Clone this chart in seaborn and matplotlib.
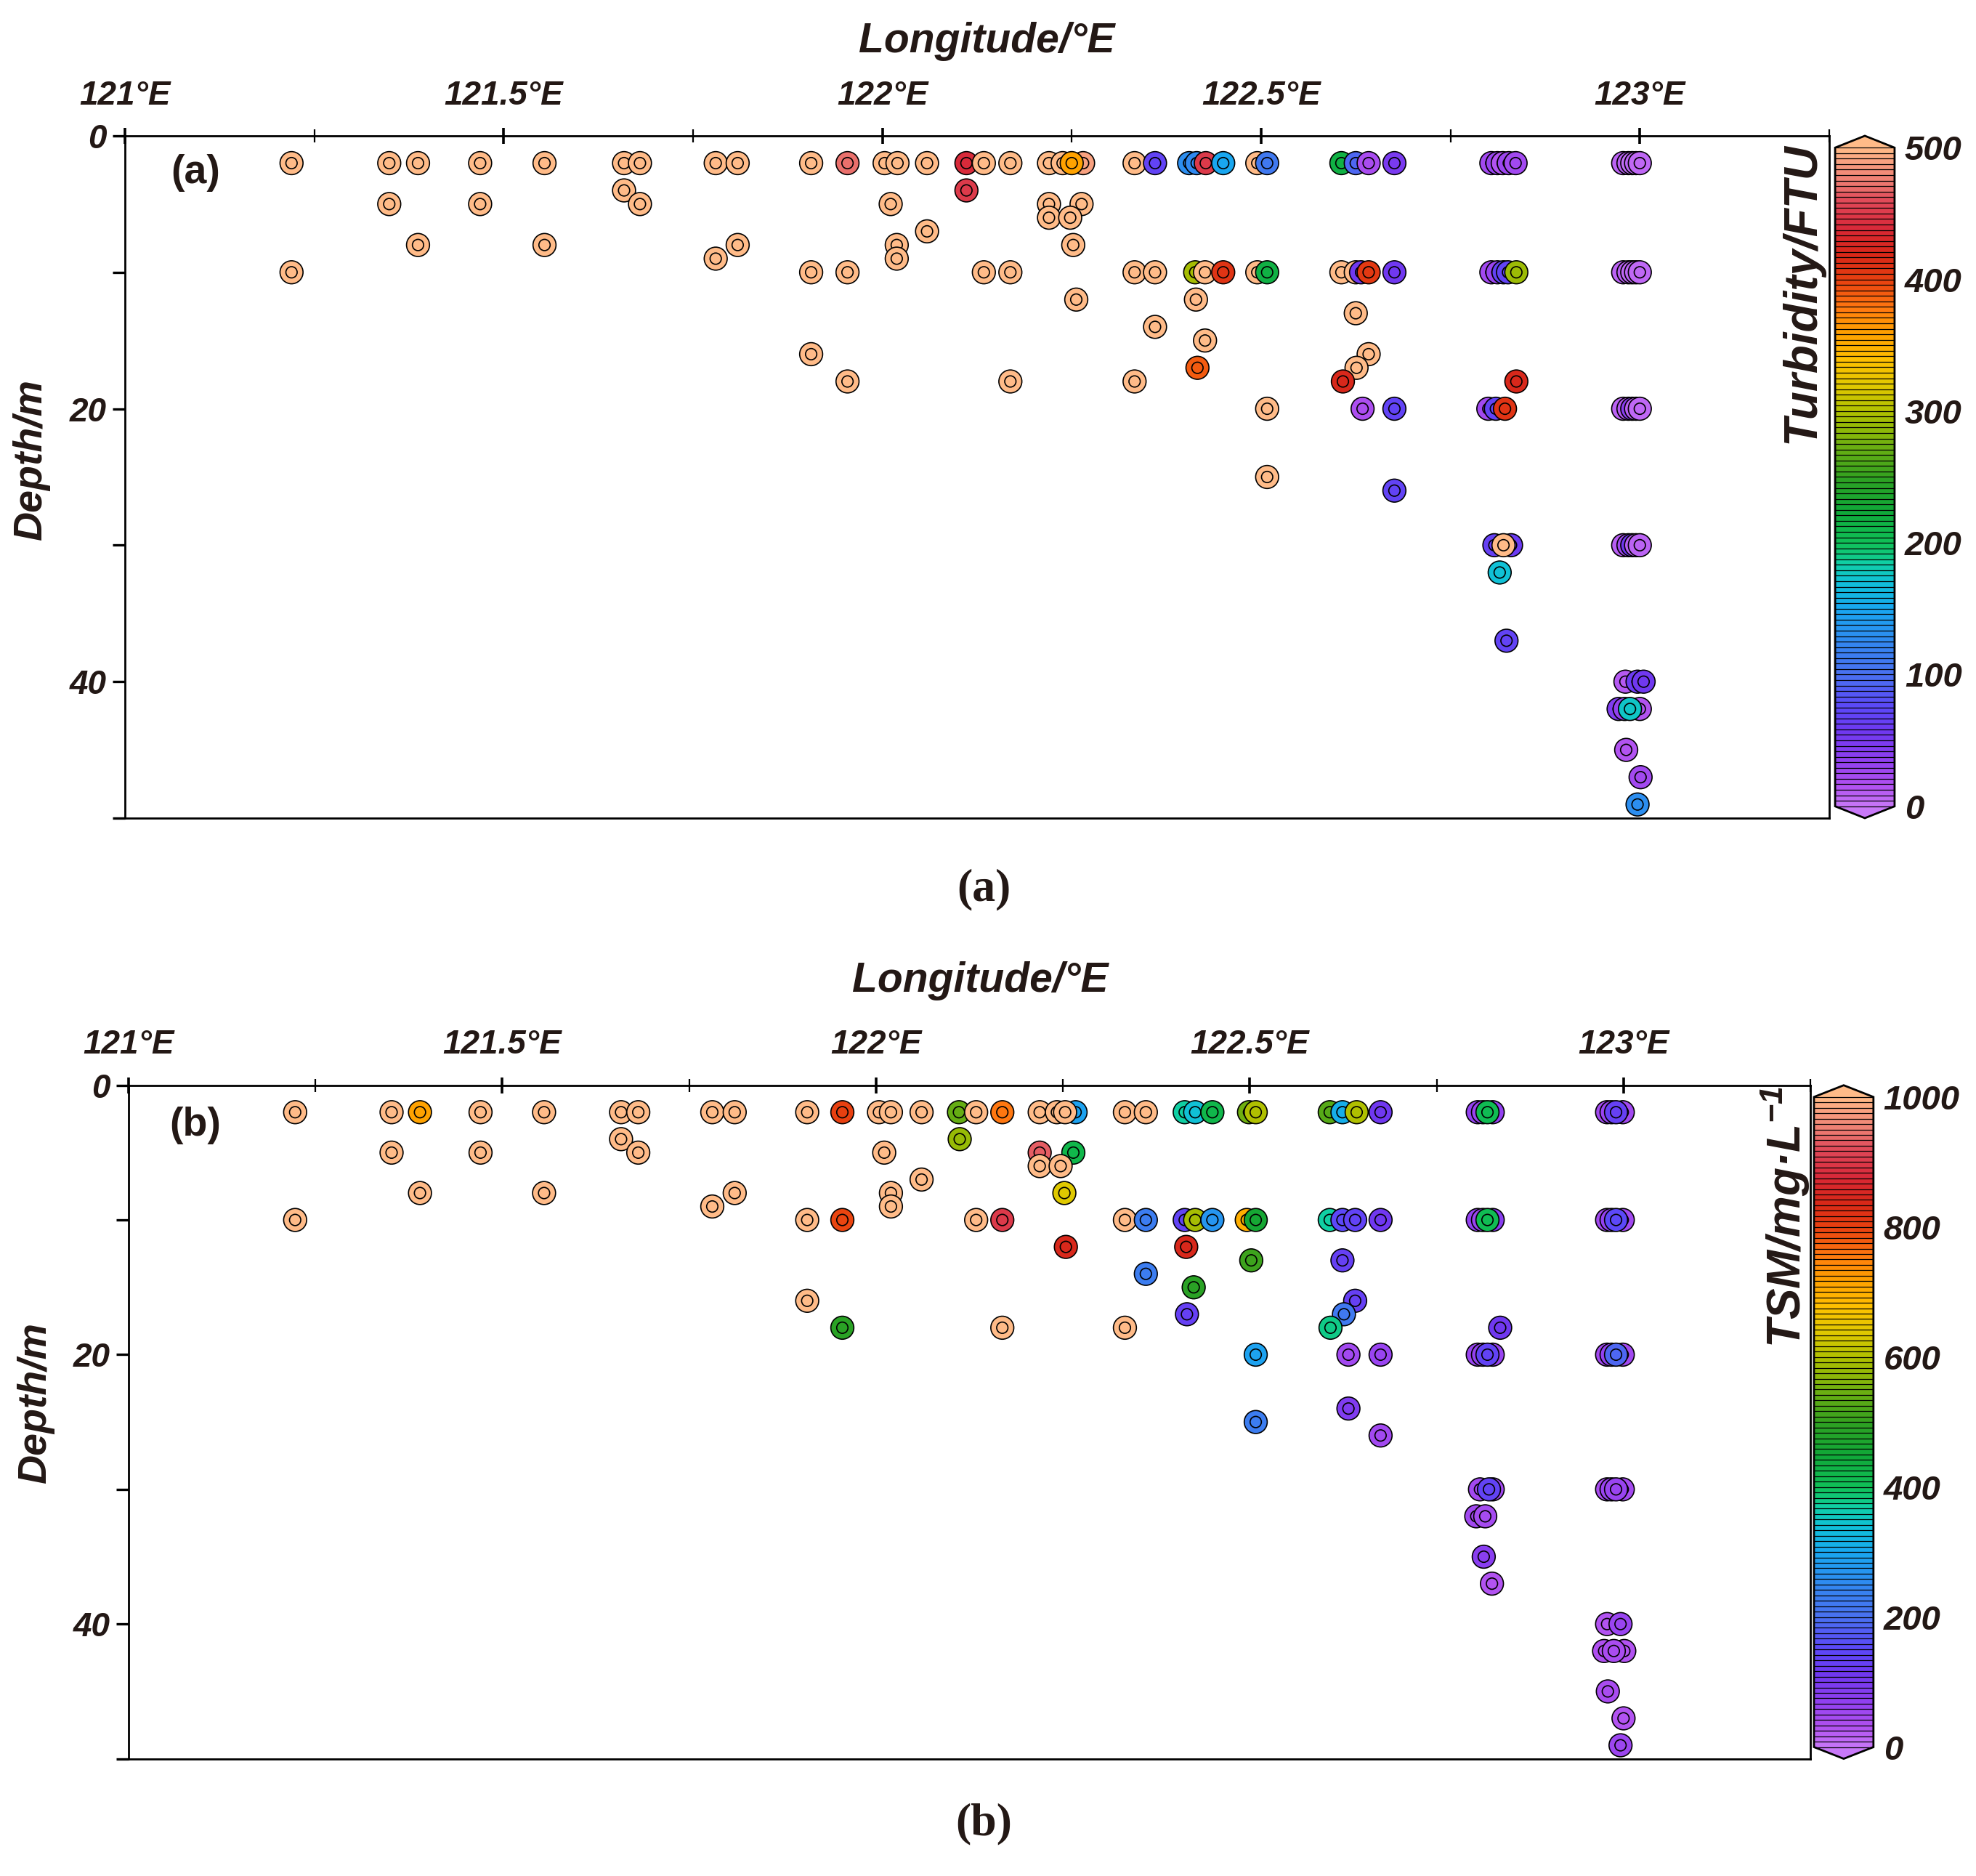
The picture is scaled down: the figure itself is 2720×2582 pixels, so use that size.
import matplotlib
matplotlib.use("Agg")
import numpy as np
import pandas as pd
import matplotlib.pyplot as plt
import matplotlib.colors as mcolors
from matplotlib.path import Path
from matplotlib.ticker import MultipleLocator, FuncFormatter
import seaborn as sns

sns.set_theme(style="ticks")
plt.rcParams['font.family'] = ['Liberation Sans', 'DejaVu Sans']
plt.rcParams['mathtext.fontset'] = 'custom'
plt.rcParams['mathtext.rm'] = 'Liberation Sans:bold:italic'
plt.rcParams['mathtext.it'] = 'Liberation Sans:bold:italic'
plt.rcParams['mathtext.bf'] = 'Liberation Sans:bold:italic'

INK = '#231815'

# ---------------- panel (a): turbidity (FTU) ----------------
lon_a = [
    # 2 m
    121.220, 121.349, 121.387, 121.469, 121.554, 121.659, 121.680, 121.780, 121.809, 121.906,
    121.954, 122.003, 122.020, 122.059, 122.111, 122.134, 122.169, 122.220, 122.238, 122.265,
    122.250, 122.333, 122.360, 122.405, 122.415, 122.427, 122.450, 122.495, 122.508, 122.606,
    122.625, 122.642, 122.676, 122.804, 122.812, 122.819, 122.827, 122.836, 122.978, 122.985,
    122.990, 122.995, 123.000,
    # 4 - 9 m
    121.659, 122.111,
    121.349, 121.469, 121.680, 122.011, 122.220, 122.263,
    122.220, 122.248,
    122.059,
    121.387, 121.554, 121.809, 122.019, 122.252,
    121.780, 122.019,
    # 10 m
    121.220, 121.906, 121.954, 122.134, 122.169, 122.333, 122.360, 122.413, 122.426, 122.450,
    122.495, 122.508, 122.606, 122.625, 122.632, 122.642, 122.676, 122.804, 122.812, 122.820,
    122.826, 122.837, 122.978, 122.985, 122.990, 122.995, 123.000,
    # 12 - 18 m
    122.256, 122.414,
    122.625,
    122.360,
    122.426,
    121.906, 122.642,
    122.416, 122.626,
    121.954, 122.169, 122.333, 122.608, 122.837,
    # 20 m
    122.508, 122.634, 122.676, 122.800, 122.810, 122.822, 122.978, 122.985, 122.990, 122.995,
    123.000,
    # 25 - 49 m
    122.508,
    122.676,
    122.808, 122.830, 122.820, 122.978, 122.985, 122.990, 122.995, 123.000,
    122.815,
    122.824,
    122.981, 122.997, 123.005,
    122.972, 122.980, 123.000, 122.987,
    122.982,
    123.001,
    122.997,
]
depth_a = [
    2, 2, 2, 2, 2, 2, 2, 2, 2, 2,
    2, 2, 2, 2, 2, 2, 2, 2, 2, 2,
    2, 2, 2, 2, 2, 2, 2, 2, 2, 2,
    2, 2, 2, 2, 2, 2, 2, 2, 2, 2,
    2, 2, 2,
    4, 4,
    5, 5, 5, 5, 5, 5,
    6, 6,
    7,
    8, 8, 8, 8, 8,
    9, 9,
    10, 10, 10, 10, 10, 10, 10, 10, 10, 10,
    10, 10, 10, 10, 10, 10, 10, 10, 10, 10,
    10, 10, 10, 10, 10, 10, 10,
    12, 12,
    13,
    14,
    15,
    16, 16,
    17, 17,
    18, 18, 18, 18, 18,
    20, 20, 20, 20, 20, 20, 20, 20, 20, 20,
    20,
    25,
    26,
    30, 30, 30, 30, 30, 30, 30, 30,
    32,
    37,
    40, 40, 40,
    42, 42, 42, 42,
    45,
    47,
    49,
]
turb_a = [
    500, 500, 500, 500, 500, 500, 500, 500, 500, 500,
    472, 500, 500, 500, 440, 500, 500, 500, 500, 490,
    358, 500, 70, 130, 125, 450, 150, 500, 110, 215,
    95, 20, 50, 25, 30, 15, 28, 25, 8, 10,
    5, 8, 6,
    500, 450,
    500, 500, 500, 500, 500, 500,
    500, 500,
    500,
    500, 500, 500, 500, 500,
    500, 500,
    500, 500, 500, 500, 500, 500, 500, 295, 500, 410,
    500, 215, 500, 500, 55, 405, 55, 25, 30, 70,
    70, 292, 8, 10, 6, 8, 6,
    500, 500,
    500,
    500,
    500,
    500, 500,
    390, 500,
    500, 500, 500, 420, 420,
    500, 18, 70, 25, 70, 410, 8, 12, 40, 10,
    6,
    500,
    70,
    65, 60, 500, 10, 25, 55, 10, 8,
    170,
    70,
    12, 60, 55,
    45, 35, 15, 175,
    15,
    25,
    130,
]

# ---------------- panel (b): TSM (mg/L) ----------------
lon_b = [
    # 2 m
    121.223, 121.352, 121.390, 121.471, 121.556, 121.659, 121.682, 121.781, 121.811, 121.908,
    121.955, 122.004, 122.020, 122.061, 122.111, 122.134, 122.169, 122.219, 122.267, 122.242,
    122.253, 122.333, 122.361, 122.413, 122.427, 122.450, 122.499, 122.508, 122.607, 122.624,
    122.643, 122.675, 122.805, 122.812, 122.825, 122.818, 122.978, 122.984, 122.999, 122.990,
    # 4 - 9 m
    121.659, 122.112,
    121.352, 121.471, 121.682, 122.011, 122.219, 122.264,
    122.219, 122.247,
    122.061,
    121.390, 121.556, 121.811, 122.020, 122.252,
    121.781, 122.020,
    # 10 m
    121.223, 121.908, 121.955, 122.134, 122.169, 122.333, 122.361, 122.413, 122.427, 122.450,
    122.496, 122.508, 122.607, 122.624, 122.641, 122.675, 122.805, 122.812, 122.825, 122.818,
    122.978, 122.984, 122.999, 122.990,
    # 12 - 18 m
    122.254, 122.415,
    122.502, 122.624,
    122.361,
    122.425,
    121.908, 122.641,
    122.416, 122.626,
    121.955, 122.169, 122.333, 122.608, 122.835,
    # 20 m
    122.508, 122.632, 122.675, 122.805, 122.812, 122.825, 122.818, 122.978, 122.984, 122.999,
    122.990,
    # 24 - 49 m
    122.632,
    122.508,
    122.675,
    122.808, 122.825, 122.820, 122.978, 122.984, 122.999, 122.990,
    122.803, 122.815,
    122.813,
    122.824,
    122.978, 122.996,
    122.974, 123.001, 122.987,
    122.979,
    123.000,
    122.996,
]
depth_b = [
    2, 2, 2, 2, 2, 2, 2, 2, 2, 2,
    2, 2, 2, 2, 2, 2, 2, 2, 2, 2,
    2, 2, 2, 2, 2, 2, 2, 2, 2, 2,
    2, 2, 2, 2, 2, 2, 2, 2, 2, 2,
    4, 4,
    5, 5, 5, 5, 5, 5,
    6, 6,
    7,
    8, 8, 8, 8, 8,
    9, 9,
    10, 10, 10, 10, 10, 10, 10, 10, 10, 10,
    10, 10, 10, 10, 10, 10, 10, 10, 10, 10,
    10, 10, 10, 10,
    12, 12,
    13, 13,
    14,
    15,
    16, 16,
    17, 17,
    18, 18, 18, 18, 18,
    20, 20, 20, 20, 20, 20, 20, 20, 20, 20,
    20,
    24,
    25,
    26,
    30, 30, 30, 30, 30, 30, 30,
    32, 32,
    35,
    37,
    40, 40,
    42, 42, 42,
    45,
    47,
    49,
]
tsm_b = [
    1000, 1000, 715, 1000, 1000, 1000, 1000, 1000, 1000, 1000,
    800, 1000, 1000, 1000, 540, 1000, 760, 1000, 290, 1000,
    1000, 1000, 1000, 370, 340, 420, 550, 600, 530, 310,
    600, 110, 70, 60, 70, 410, 50, 60, 50, 130,
    1000, 580,
    1000, 1000, 1000, 1000, 930, 420,
    1000, 1000,
    1000,
    1000, 1000, 1000, 1000, 640,
    1000, 1000,
    1000, 1000, 795, 1000, 900, 1000, 230, 140, 590, 270,
    700, 460, 370, 150, 140, 110, 70, 60, 80, 410,
    50, 70, 50, 150,
    840, 840,
    510, 130,
    230,
    490,
    1000, 130,
    130, 220,
    490, 1000, 1000, 380, 110,
    290, 50, 60, 60, 70, 60, 140, 50, 70, 50,
    190,
    90,
    230,
    50,
    50, 50, 140, 40, 60, 45, 60,
    50, 45,
    80,
    30,
    30, 60,
    35, 30, 40,
    40,
    30,
    55,
]

# colour ramp (fraction of range -> colour)
ramp_stops = [0.00, 0.03, 0.07, 0.11, 0.15, 0.20, 0.25, 0.30, 0.34, 0.37, 0.40, 0.45, 0.50,
              0.55, 0.60, 0.64, 0.68, 0.72, 0.76, 0.80, 0.84, 0.88, 0.92, 0.95, 0.98, 1.00]
ramp_colors = ['#c878f8', '#b050f0', '#9040f0', '#7038f0', '#5c48f8', '#4a70f0', '#3088f0',
               '#18a8f0', '#10c0d8', '#10d0a0', '#10c058', '#10a838', '#30a020', '#70b010',
               '#b0c000', '#e0c800', '#ffc000', '#ffa000', '#ff7810', '#e84010', '#d82818',
               '#d82838', '#e04858', '#ec7870', '#f8a080', '#ffbb88']


def make_cmap():
    cmap = mcolors.LinearSegmentedColormap.from_list(
        'sed', list(zip(ramp_stops, ramp_colors)))
    cmap.set_under(ramp_colors[0])
    cmap.set_over(ramp_colors[-1])
    return cmap


def ring_marker():
    # filled disc with a smaller stroked circle inside
    return Path.make_compound_path(Path.unit_circle(), Path.circle((0, 0), 0.49))


def draw_panel(fig, ax, cax, lon, depth, val, vmax, cticks, lab_xy, tag):
    cmap = make_cmap()
    norm = mcolors.Normalize(0, vmax)
    df = pd.DataFrame({'lon': lon, 'depth': depth, 'val': val})
    sns.scatterplot(data=df, x='lon', y='depth', hue='val', palette=cmap, hue_norm=norm,
                    marker=ring_marker(), s=130, edgecolor='black', linewidth=0.6,
                    legend=False, ax=ax, zorder=3, clip_on=False)
    ax.set_xlim(121, 123.25)
    ax.set_ylim(50, 0)
    ax.set_xlabel('')
    ax.set_ylabel('')

    tick_font = dict(family=['Liberation Sans', 'DejaVu Sans'], weight='bold',
                     style='italic', size=16.5)
    ax.xaxis.set_major_locator(MultipleLocator(0.5))
    ax.xaxis.set_minor_locator(MultipleLocator(0.25))
    ax.xaxis.set_major_formatter(FuncFormatter(lambda v, p: f'{v:g}°E'))
    ax.yaxis.set_major_locator(MultipleLocator(10))
    ax.yaxis.set_major_formatter(
        FuncFormatter(lambda v, p: f'{v:g}' if round(v) % 20 == 0 else ''))
    ax.tick_params(axis='x', which='both', top=True, bottom=False, labeltop=True,
                   labelbottom=False, direction='inout', colors='black', labelcolor=INK)
    ax.tick_params(axis='x', which='major', length=8, width=1.3, pad=8)
    ax.tick_params(axis='x', which='minor', length=6.5, width=0.8)
    ax.tick_params(axis='y', which='major', left=True, direction='out', length=6,
                   width=1.2, pad=3, colors='black', labelcolor=INK)
    for t in ax.get_xticklabels() + ax.get_yticklabels():
        t.set_fontproperties(tick_font)
    for sp in ax.spines.values():
        sp.set_visible(True)
        sp.set_color('black')
        sp.set_linewidth(1.0)

    # colour bar with banded levels
    sm = plt.cm.ScalarMappable(norm=norm, cmap=cmap)
    cb = fig.colorbar(sm, cax=cax, extend='both', extendfrac=0.018,
                      boundaries=np.linspace(0, vmax, 121), drawedges=True, ticks=cticks)
    cb.dividers.set_color('black')
    cb.dividers.set_linewidth(0.45)
    cb.outline.set_linewidth(1.0)
    cb.outline.set_edgecolor('black')
    cb.ax.tick_params(length=0, pad=5)
    for t in cb.ax.get_yticklabels():
        t.set_fontproperties(dict(tick_font, size=17))
        t.set_color(INK)

    # panel tag inside the axes
    ax.text(lab_xy[0], lab_xy[1], tag, transform=fig.transFigure, ha='center', va='center',
            fontsize=20, fontweight='bold', color=INK)


def main():
    fig = plt.figure(figsize=(13.6, 12.91), dpi=200)
    ax_a = fig.add_axes([0.0632, 0.5639, 0.8625, 0.3637])
    cax_a = fig.add_axes([0.9287, 0.5639, 0.0301, 0.3637])
    ax_b = fig.add_axes([0.0650, 0.0625, 0.8512, 0.3590])
    cax_b = fig.add_axes([0.9180, 0.0625, 0.0301, 0.3590])

    draw_panel(fig, ax_a, cax_a, lon_a, depth_a, turb_a, 500, [0, 100, 200, 300, 400, 500],
               (0.0989, 0.9078), '(a)')
    draw_panel(fig, ax_b, cax_b, lon_b, depth_b, tsm_b, 1000, [0, 200, 400, 600, 800, 1000],
               (0.0989, 0.4001), '(b)')

    lab = dict(family=['Liberation Sans', 'DejaVu Sans'], weight='bold', style='italic',
               color=INK)
    fig.text(0.4993, 0.9779, 'Longitude/°E', ha='center', va='center', size=20.5, **lab)
    fig.text(0.4960, 0.4772, 'Longitude/°E', ha='center', va='center', size=20.5, **lab)
    fig.text(0.0158, 0.7548, 'Depth/m', ha='center', va='center', rotation=90, size=20, **lab)
    fig.text(0.0180, 0.2522, 'Depth/m', ha='center', va='center', rotation=90, size=20, **lab)
    fig.text(0.9120, 0.9240, 'Turbidity/FTU', ha='center', va='top', rotation=90,
             size=23, **lab)
    fig.text(0.9037, 0.4210, 'TSM/mg·L$^{-1}$', ha='center', va='top', rotation=90,
             size=23, **lab)

    cap = dict(family=['Liberation Serif', 'DejaVu Serif'], weight='bold', color=INK,
               size=23, ha='center', va='center')
    fig.text(0.498, 0.5256, '(a)', **cap)
    fig.text(0.498, 0.0279, '(b)', **cap)

    fig.savefig('out.png', dpi=200)


if __name__ == '__main__':
    main()
